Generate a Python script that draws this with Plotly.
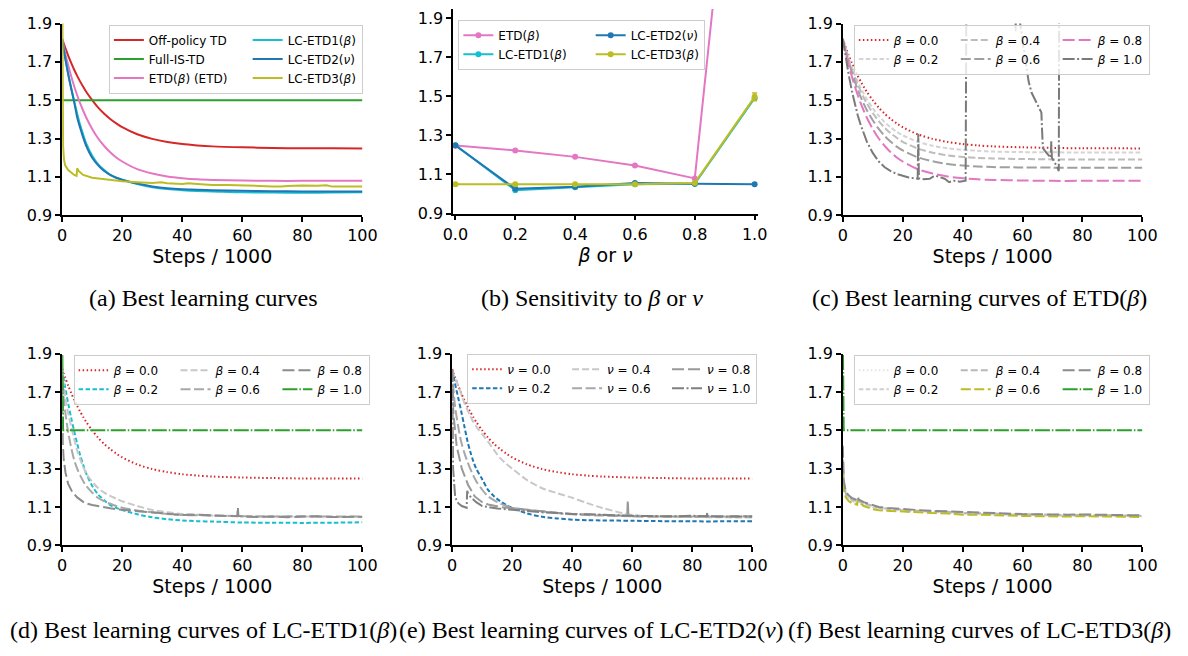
import plotly.graph_objects as go

W, H = 1188, 656

# ---------------- data ----------------
XS = [0, 0.5, 1, 2, 3, 4, 5, 6, 7, 8, 10, 12, 14, 16, 18, 20, 25, 30, 35, 40, 45, 50, 60, 70, 80, 90, 100]

off_policy_td = [1.82, 1.797, 1.775, 1.733, 1.695, 1.659, 1.627, 1.597, 1.57, 1.544, 1.50, 1.461, 1.429, 1.402,
                 1.379, 1.359, 1.322, 1.298, 1.282, 1.271, 1.264, 1.259, 1.254, 1.251, 1.249, 1.249, 1.248]
etd_best = [1.815, 1.78, 1.745, 1.682, 1.625, 1.573, 1.526, 1.483, 1.445, 1.41, 1.35, 1.30, 1.261, 1.228,
            1.201, 1.18, 1.14, 1.117, 1.102, 1.093, 1.087, 1.084, 1.081, 1.079, 1.079, 1.08, 1.08]
lc_etd1_best = [1.815, 1.77, 1.725, 1.64, 1.565, 1.495, 1.43, 1.37, 1.32, 1.275, 1.21, 1.165, 1.135, 1.11,
                1.095, 1.084, 1.062, 1.046, 1.036, 1.03, 1.026, 1.024, 1.019, 1.018, 1.017, 1.018, 1.02]
lc_etd2_best = [1.815, 1.765, 1.72, 1.635, 1.56, 1.49, 1.41, 1.355, 1.305, 1.262, 1.2, 1.16, 1.13, 1.11,
                1.095, 1.085, 1.065, 1.05, 1.04, 1.035, 1.033, 1.03, 1.027, 1.025, 1.024, 1.023, 1.023]
full_is_x = [0, 100]
full_is_td = [1.5, 1.5]

lc3_x = [0, 0.3, 0.6, 1, 2, 3, 4, 4.8, 5.0, 5.5, 7, 10, 15, 20, 25, 30, 33, 35, 40, 42, 45, 50, 55, 60, 65,
         70, 73, 75, 80, 85, 88, 90, 95, 100]
lc_etd3_best = [2.2, 1.26, 1.19, 1.16, 1.135, 1.12, 1.11, 1.105, 1.145, 1.13, 1.11, 1.095, 1.085, 1.077, 1.072,
                1.068, 1.072, 1.066, 1.062, 1.066, 1.063, 1.058, 1.058, 1.054, 1.053, 1.05, 1.049, 1.052, 1.055,
                1.053, 1.056, 1.049, 1.05, 1.049]

# (b) sensitivity
param_vals = [0.0, 0.2, 0.4, 0.6, 0.8, 1.0]
sens_etd = [1.248, 1.223, 1.19, 1.146, 1.08, 4.0]
sens_lc1 = [1.25, 1.02, 1.035, 1.05, 1.052, 1.49]
sens_lc2 = [1.248, 1.027, 1.037, 1.056, 1.052, 1.05]
sens_lc3 = [1.05, 1.05, 1.05, 1.05, 1.057, 1.497]
sens_lc3_err = [0.003, 0.003, 0.003, 0.003, 0.003, 0.02]

# (c) ETD(beta)
etd_b02 = [1.82, 1.793, 1.767, 1.718, 1.674, 1.634, 1.597, 1.564, 1.534, 1.506, 1.458, 1.418, 1.385, 1.358,
           1.335, 1.317, 1.283, 1.262, 1.249, 1.241, 1.236, 1.232, 1.229, 1.228, 1.227, 1.227, 1.227]
etd_b04 = [1.82, 1.79, 1.763, 1.71, 1.663, 1.62, 1.581, 1.546, 1.513, 1.484, 1.433, 1.391, 1.356, 1.327,
           1.304, 1.283, 1.248, 1.226, 1.212, 1.204, 1.199, 1.196, 1.193, 1.191, 1.19, 1.19, 1.19]
etd_b06 = [1.82, 1.787, 1.756, 1.698, 1.646, 1.598, 1.555, 1.516, 1.481, 1.449, 1.395, 1.35, 1.313, 1.283,
           1.258, 1.238, 1.202, 1.181, 1.167, 1.159, 1.154, 1.151, 1.149, 1.148, 1.147, 1.147, 1.147]
etd_b10_x = [0, 1, 2, 3, 4, 5, 6, 7, 8, 10, 12, 14, 16, 18, 20, 22, 24, 25, 25.2, 25.4, 27, 29, 30, 31, 32, 34,
             35.5, 37, 39, 41, 41.5, 57.3, 57.7, 58.1, 58.6, 59.2, 60.8, 62, 63, 65, 66.3, 66.5, 66.8, 68, 69.4,
             69.6, 69.8, 70.5, 71.5, 72.1, 72.4, 100]
etd_b10 = [1.82, 1.72, 1.63, 1.55, 1.48, 1.42, 1.37, 1.325, 1.285, 1.225, 1.18, 1.15, 1.13, 1.115, 1.105, 1.097,
           1.092, 1.09, 1.325, 1.092, 1.088, 1.09, 1.1, 1.106, 1.1, 1.09, 1.072, 1.08, 1.075, 1.08, 3.0, 3.0, 1.86,
           3.0, 3.0, 1.9, 1.72, 1.6, 1.54, 1.48, 1.435, 1.35, 1.25, 1.225, 1.2, 1.285, 1.2, 1.18, 1.155, 1.13,
           3.0, 3.0]

# (d) LC-ETD1(beta)
lc1_b04 = [1.82, 1.74, 1.68, 1.59, 1.52, 1.455, 1.395, 1.35, 1.31, 1.275, 1.232, 1.198, 1.175, 1.158, 1.143,
           1.13, 1.105, 1.085, 1.072, 1.064, 1.06, 1.056, 1.053, 1.05, 1.05, 1.048, 1.047]
lc1_b06 = [1.82, 1.67, 1.6, 1.49, 1.41, 1.345, 1.3, 1.265, 1.235, 1.21, 1.175, 1.147, 1.13, 1.117, 1.105,
           1.096, 1.082, 1.072, 1.064, 1.058, 1.057, 1.055, 1.052, 1.05, 1.052, 1.05, 1.05]
lc1_b08_x = [0, 0.2, 0.5, 1.1, 2, 3.3, 5, 7.6, 10, 12, 16, 20, 25, 30, 35, 40, 45, 50, 55, 58.3, 58.5, 58.7,
             60, 65, 70, 75, 80, 85, 90, 95, 100]
lc1_b08 = [1.82, 1.43, 1.35, 1.28, 1.22, 1.18, 1.15, 1.12, 1.11, 1.103, 1.093, 1.085, 1.078, 1.071, 1.066,
           1.058, 1.06, 1.055, 1.053, 1.052, 1.098, 1.053, 1.05, 1.048, 1.05, 1.047, 1.05, 1.052, 1.048, 1.05, 1.049]
flat_x = [0, 0.3, 100]
lc_b10_flat = [2.0, 1.5, 1.5]

# (e) LC-ETD2(nu)
lc2_v02 = [1.815, 1.78, 1.74, 1.67, 1.6, 1.525, 1.45, 1.39, 1.34, 1.30, 1.245, 1.188, 1.155, 1.13, 1.11,
           1.095, 1.066, 1.049, 1.04, 1.034, 1.031, 1.03, 1.028, 1.026, 1.025, 1.025, 1.026]
lc2_v04 = [1.815, 1.79, 1.77, 1.735, 1.69, 1.645, 1.61, 1.575, 1.545, 1.52, 1.48, 1.44, 1.395, 1.355, 1.325,
           1.30, 1.24, 1.198, 1.172, 1.148, 1.12, 1.095, 1.058, 1.05, 1.048, 1.046, 1.045]
lc2_v06 = [1.815, 1.7, 1.62, 1.52, 1.44, 1.385, 1.34, 1.3, 1.265, 1.235, 1.19, 1.155, 1.135, 1.118, 1.106,
           1.096, 1.085, 1.076, 1.068, 1.062, 1.058, 1.055, 1.052, 1.05, 1.05, 1.051, 1.05]
lc2_v08_x = [0, 0.2, 0.4, 1.5, 3.2, 5.3, 7.5, 10, 12, 16, 20, 25, 30, 35, 40, 45, 50, 55, 58.3, 58.5, 58.7, 60,
             65, 70, 75, 80, 85, 90, 95, 100]
lc2_v08 = [1.815, 1.65, 1.587, 1.418, 1.3, 1.215, 1.155, 1.125, 1.113, 1.1, 1.093, 1.084, 1.076, 1.07, 1.064,
           1.06, 1.057, 1.055, 1.054, 1.136, 1.054, 1.052, 1.05, 1.049, 1.05, 1.051, 1.05, 1.05, 1.052, 1.05]
lc2_v10_x = [0, 0.3, 1, 2, 3.2, 4.8, 5.0, 5.3, 6.4, 8, 10, 15, 20, 25, 30, 35, 40, 45, 50, 55, 60, 65, 70, 75,
             80, 84.8, 85.0, 85.2, 90, 95, 100]
lc2_v10 = [1.815, 1.3, 1.15, 1.12, 1.105, 1.096, 1.185, 1.17, 1.147, 1.125, 1.105, 1.092, 1.085, 1.078, 1.072,
           1.068, 1.063, 1.062, 1.058, 1.057, 1.054, 1.053, 1.05, 1.051, 1.054, 1.052, 1.07, 1.052, 1.05, 1.051, 1.05]

# (f) LC-ETD3(beta)
FX = [0, 0.3, 1, 2, 3, 4, 4.8, 5.0, 5.4, 7, 10, 12, 15, 20, 25, 30, 35, 40, 45, 50, 55, 60, 65, 70, 75, 80, 85,
      90, 95, 100]
lc3_b00 = [1.37, 1.21, 1.16, 1.14, 1.128, 1.12, 1.118, 1.135, 1.125, 1.112, 1.096, 1.09, 1.086, 1.08, 1.076,
           1.072, 1.07, 1.064, 1.062, 1.06, 1.059, 1.056, 1.055, 1.053, 1.053, 1.054, 1.053, 1.051, 1.05, 1.05]
lc3_b02 = [1.38, 1.22, 1.165, 1.145, 1.132, 1.125, 1.122, 1.138, 1.128, 1.115, 1.098, 1.092, 1.088, 1.082,
           1.078, 1.074, 1.072, 1.066, 1.064, 1.062, 1.061, 1.058, 1.057, 1.055, 1.055, 1.056, 1.055, 1.053,
           1.052, 1.052]
lc3_b04 = [1.40, 1.23, 1.17, 1.152, 1.14, 1.132, 1.128, 1.142, 1.132, 1.12, 1.104, 1.097, 1.092, 1.085, 1.081,
           1.077, 1.075, 1.069, 1.067, 1.065, 1.064, 1.061, 1.06, 1.058, 1.058, 1.059, 1.058, 1.056, 1.055, 1.054]
lc3_b06 = [1.30, 1.19, 1.15, 1.13, 1.12, 1.115, 1.112, 1.14, 1.125, 1.105, 1.088, 1.083, 1.08, 1.075, 1.071,
           1.068, 1.066, 1.06, 1.06, 1.056, 1.055, 1.053, 1.052, 1.05, 1.05, 1.052, 1.051, 1.049, 1.049, 1.048]
lc3_b08 = [1.42, 1.24, 1.18, 1.16, 1.148, 1.14, 1.135, 1.15, 1.138, 1.125, 1.108, 1.1, 1.095, 1.088, 1.084,
           1.08, 1.077, 1.072, 1.07, 1.068, 1.066, 1.063, 1.062, 1.06, 1.06, 1.061, 1.06, 1.058, 1.057, 1.056]

steps_ticks = [0, 20, 40, 60, 80, 100]
param_ticks = [0.0, 0.2, 0.4, 0.6, 0.8, 1.0]
y_ticks = [0.9, 1.1, 1.3, 1.5, 1.7, 1.9]

# ---------------- styles ----------------
RED, GREEN, PINK, CYAN, BLUE, OLIVE = "#d62728", "#2ca02c", "#e377c2", "#17becf", "#1f77b4", "#bcbd22"
DOT = "1.5px,2.5px"
DASH = "4.5px,2.4px"
DASH2 = "7px,3px"
LDASH = "10px,3.5px"
LLDASH = "12px,4px"
DASHDOT = "12px,2.5px,2px,2.5px"
GDASHDOT = "15px,2px,1.5px,2px"
LW = 2.0

fig = go.Figure()


def add_line(x, y, name, color, dash, n, group, shape="spline"):
    fig.add_trace(go.Scatter(
        x=x, y=y, name=name, mode="lines",
        line=dict(color=color, width=LW, dash=dash, shape=shape, smoothing=0.8),
        xaxis="x" if n == 1 else f"x{n}", yaxis="y" if n == 1 else f"y{n}",
        legend="legend" if n == 1 else f"legend{n}", legendgroup=group, hoverinfo="skip"))


B = "<i>β</i>"
NU = "<i>ν</i>"


def pad(s, k):
    # trailing non-breaking spaces widen a legend column (matplotlib column spacing)
    return s + "\u00a0" * k


# (a)
add_line(XS, off_policy_td, pad("Off-policy TD", 4), RED, "solid", 1, "a1")
add_line(full_is_x, full_is_td, pad("Full-IS-TD", 4), GREEN, "solid", 1, "a1", "linear")
add_line(XS, etd_best, pad(f"ETD({B}) (ETD)", 4), PINK, "solid", 1, "a1")
add_line(XS, lc_etd1_best, f"LC-ETD1({B})", CYAN, "solid", 1, "a2")
add_line(XS, lc_etd2_best, f"LC-ETD2({NU})", BLUE, "solid", 1, "a2")
add_line(lc3_x, lc_etd3_best, f"LC-ETD3({B})", OLIVE, "solid", 1, "a2", "linear")

# (b)
for vals, name, color, grp, err in [
    (sens_etd, pad(f"ETD({B})", 5), PINK, "b1", None),
    (sens_lc1, pad(f"LC-ETD1({B})", 5), CYAN, "b1", None),
    (sens_lc2, f"LC-ETD2({NU})", BLUE, "b2", None),
    (sens_lc3, f"LC-ETD3({B})", OLIVE, "b2", sens_lc3_err),
]:
    fig.add_trace(go.Scatter(
        x=param_vals, y=vals, name=name, mode="lines+markers",
        line=dict(color=color, width=LW), marker=dict(color=color, size=6),
        error_y=dict(type="data", array=err, color=color, thickness=1.5, width=2.5, visible=err is not None),
        xaxis="x2", yaxis="y2", legend="legend2", legendgroup=grp, cliponaxis=True, hoverinfo="skip"))

P = 3
# (c)
add_line(XS, off_policy_td, pad(f"{B} = 0.0", P), RED, DOT, 3, "c1")
add_line(XS, etd_b02, pad(f"{B} = 0.2", P), "#d4d4d4", DASH, 3, "c1")
add_line(XS, etd_b04, pad(f"{B} = 0.4", P), "#bdbdbd", DASH2, 3, "c2")
add_line(XS, etd_b06, pad(f"{B} = 0.6", P), "#a0a0a0", LDASH, 3, "c2")
add_line(XS, etd_best, f"{B} = 0.8", PINK, LLDASH, 3, "c3")
add_line(etd_b10_x, etd_b10, f"{B} = 1.0", "#7a7a7a", DASHDOT, 3, "c3", "linear")

# (d)
add_line(XS, off_policy_td, pad(f"{B} = 0.0", P), RED, DOT, 4, "d1")
add_line(XS, lc_etd1_best, pad(f"{B} = 0.2", P), CYAN, DASH, 4, "d1")
add_line(XS, lc1_b04, pad(f"{B} = 0.4", P), "#c8c8c8", DASH2, 4, "d2")
add_line(XS, lc1_b06, pad(f"{B} = 0.6", P), "#a8a8a8", LDASH, 4, "d2")
add_line(lc1_b08_x, lc1_b08, f"{B} = 0.8", "#8c8c8c", LLDASH, 4, "d3", "linear")
add_line(flat_x, lc_b10_flat, f"{B} = 1.0", GREEN, GDASHDOT, 4, "d3", "linear")

# (e)
add_line(XS, off_policy_td, pad(f"{NU} = 0.0", P), RED, DOT, 5, "e1")
add_line(XS, lc2_v02, pad(f"{NU} = 0.2", P), BLUE, DASH, 5, "e1")
add_line(XS, lc2_v04, pad(f"{NU} = 0.4", P), "#c8c8c8", DASH2, 5, "e2")
add_line(XS, lc2_v06, pad(f"{NU} = 0.6", P), "#a8a8a8", LDASH, 5, "e2")
add_line(lc2_v08_x, lc2_v08, f"{NU} = 0.8", "#999999", LLDASH, 5, "e3", "linear")
add_line(lc2_v10_x, lc2_v10, f"{NU} = 1.0", "#808080", DASHDOT, 5, "e3", "linear")

# (f)
add_line(FX, lc3_b00, pad(f"{B} = 0.0", P), "#e3e3e3", DOT, 6, "f1", "linear")
add_line(FX, lc3_b02, pad(f"{B} = 0.2", P), "#d0d0d0", DASH, 6, "f1", "linear")
add_line(FX, lc3_b04, pad(f"{B} = 0.4", P), "#b8b8b8", DASH2, 6, "f2", "linear")
add_line(FX, lc3_b06, pad(f"{B} = 0.6", P), OLIVE, LDASH, 6, "f2", "linear")
add_line(FX, lc3_b08, f"{B} = 0.8", "#8c8c8c", LLDASH, 6, "f3", "linear")
add_line(flat_x, lc_b10_flat, f"{B} = 1.0", GREEN, GDASHDOT, 6, "f3", "linear")

# ---------------- layout ----------------
TICKFONT = dict(family="DejaVu Sans", size=16, color="black")
TITLEFONT = dict(family="DejaVu Sans", size=19, color="black")


def xaxis(px0, px1, rng, ticks, title, anchor):
    return dict(domain=[px0 / W, px1 / W], range=rng, tickvals=ticks,
                ticktext=[("%g" % t) if rng[1] > 5 else ("%.1f" % t) for t in ticks],
                showline=True, linecolor="black", linewidth=1.5, ticks="outside", ticklen=5, tickwidth=1.5,
                tickcolor="black", showgrid=False, zeroline=False, tickfont=TICKFONT, anchor=anchor,
                title=dict(text=title, font=TITLEFONT, standoff=4), fixedrange=True)


def yaxis(py_top, py_bot, rng, anchor):
    return dict(domain=[1 - py_bot / H, 1 - py_top / H], range=rng, tickvals=y_ticks,
                ticktext=["%.1f" % t for t in y_ticks],
                showline=True, linecolor="black", linewidth=1.5, ticks="outside", ticklen=5, tickwidth=1.5,
                tickcolor="black", showgrid=False, zeroline=False, tickfont=TICKFONT, anchor=anchor,
                fixedrange=True)


def legend(xpx, ypx):
    return dict(x=xpx / W, y=1 - ypx / H, xanchor="left", yanchor="top", orientation="h",
                traceorder="grouped", bgcolor="rgba(255,255,255,0.8)", bordercolor="#cccccc", borderwidth=1,
                font=dict(family="DejaVu Sans", size=12, color="black"), itemwidth=30, tracegroupgap=0)


STEPS = "Steps / 1000"
layout = dict(
    width=W, height=H, margin=dict(l=0, r=0, t=0, b=0),
    paper_bgcolor="white", plot_bgcolor="white", showlegend=True,
    xaxis=xaxis(53.3, 360, [0, 100], steps_ticks, STEPS, "y"),
    yaxis=yaxis(15, 212.3, [0.9, 1.9], "x"),
    xaxis2=xaxis(452.7, 764, [-0.0075, 1.011], param_ticks, f"{B} or {NU}", "y2"),
    yaxis2=yaxis(0, 210.7, [0.9, 1.946], "x2"),
    xaxis3=xaxis(850.7, 1156.7, [0, 100], steps_ticks, STEPS, "y3"),
    yaxis3=yaxis(15, 212.3, [0.9, 1.9], "x3"),
    xaxis4=xaxis(53.3, 360, [0, 100], steps_ticks, STEPS, "y4"),
    yaxis4=yaxis(355, 552.3, [0.9, 1.9], "x4"),
    xaxis5=xaxis(451.7, 758.3, [0, 100], steps_ticks, STEPS, "y5"),
    yaxis5=yaxis(355, 552.3, [0.9, 1.9], "x5"),
    xaxis6=xaxis(850.7, 1156.7, [0, 100], steps_ticks, STEPS, "y6"),
    yaxis6=yaxis(355, 552.3, [0.9, 1.9], "x6"),
    legend=legend(101, 16),
    legend2=legend(458, 11),
    legend3=legend(862, 16),
    legend4=legend(65, 356),
    legend5=legend(467, 355),
    legend6=legend(862, 356),
)
fig.update_layout(**layout)

captions = [
    (198, 298, "(a) Best learning curves"),
    (594, 298, f"(b) Sensitivity to {B} or {NU}"),
    (990, 298, f"(c) Best learning curves of ETD({B})"),
    (198, 640, f"(d) Best learning curves of LC-ETD1({B})"),
    (594, 640, f"(e) Best learning curves of LC-ETD2({NU})"),
    (990, 640, f"(f) Best learning curves of LC-ETD3({B})"),
]
for cx, cy, txt in captions:
    fig.add_annotation(x=cx / W, y=1 - cy / H, xref="paper", yref="paper", text=txt, showarrow=False,
                       xanchor="center", yanchor="middle",
                       font=dict(family="Liberation Serif", size=24, color="black"))

fig.write_html("out.html")
